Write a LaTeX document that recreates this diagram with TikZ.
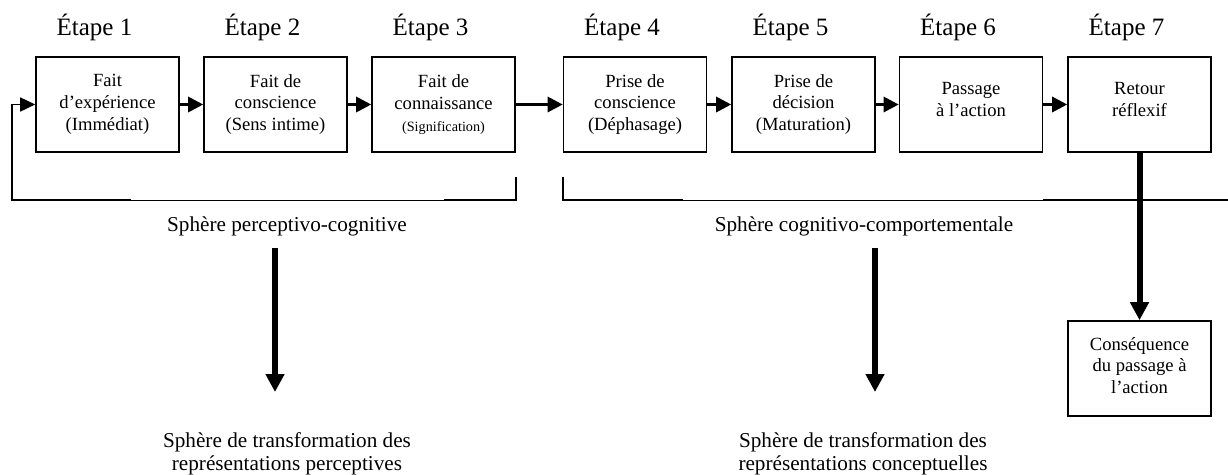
\documentclass[tikz,border=0pt]{standalone}
\usepackage{fontspec}
\setmainfont{Liberation Serif}
\usetikzlibrary{arrows.meta}
% invisible depth added under the last line of a box to lift its text
\newcommand\liftpad[1]{\rule[-#1]{0pt}{0pt}}

\begin{document}
\begin{tikzpicture}[x=1pt,y=-1pt,
  stage/.style={draw, line width=1.6pt, minimum width=143pt, minimum height=95pt,
    inner sep=0pt, align=center, font=\fontsize{18.6}{21.7}\selectfont},
  etape/.style={anchor=base, inner sep=0pt, font=\fontsize{25}{30}\selectfont},
  sphere/.style={inner sep=0pt, align=center, font=\fontsize{21.2}{23.5}\selectfont},
  link/.style={line width=3pt, -{Triangle[length=15pt,width=15pt]}},
  bracket/.style={line width=1.6pt},
  thinrule/.style={line width=0.8pt},
  bigarrow/.style={line width=6pt, -{Triangle[length=18pt,width=18pt]}},
]
\useasboundingbox (0,0) rectangle (1228,474);

% the seven stages
\node[stage] (b1) at (107.5,104.5) {Fait\\d’expérience\\(Immédiat)};
\node[stage] (b2) at (275.5,104.5) {Fait de\\conscience\\(Sens intime)};
\node[stage] (b3) at (443.5,104.5) {Fait de\\connaissance\\{\fontsize{14.2}{17}\selectfont(Signification)}};
\node[stage] (b4) at (635,104.5) {Prise de\\conscience\\(Déphasage)};
\node[stage] (b5) at (803.5,104.5) {Prise de\\décision\\(Maturation)};
\node[stage] (b6) at (971,104.5) {Passage\\à l’action\liftpad{10pt}};
\node[stage] (b7) at (1139.5,104.5) {Retour\\réflexif\liftpad{10pt}};
\node[stage] (cons) at (1139.5,368.5) {Conséquence\\du passage à\\l’action\liftpad{6pt}};

% stage titles
\node[etape] (e1) at (94.5,35) {Étape 1};
\node[etape] (e2) at (262.5,35) {Étape 2};
\node[etape] (e3) at (430.5,35) {Étape 3};
\node[etape] (e4) at (622,35) {Étape 4};
\node[etape] (e5) at (790.5,35) {Étape 5};
\node[etape] (e6) at (958,35) {Étape 6};
\node[etape] (e7) at (1126.5,35) {Étape 7};

% chain of stages
\draw[link] (b1) -- (b2);
\draw[link] (b2) -- (b3);
\draw[link] (b3) -- (b4);
\draw[link] (b4) -- (b5);
\draw[link] (b5) -- (b6);
\draw[link] (b6) -- (b7);

% perceptive-cognitive bracket with the feedback loop
\coordinate (f1) at (516,177);
\coordinate (f2) at (516,200);
\coordinate (f3) at (444,200);
\coordinate (f4) at (131,200);
\coordinate (f5) at (12,200);
\coordinate (f6) at (12,104.5);
\draw[bracket] (f1) -- (f2) -- (f3);
\draw[thinrule] (f3) -- (f4);
\draw[bracket, -{Triangle[length=15pt,width=14pt]}] (f4) -- (f5) -- (f6) -- (b1.west);

% cognitive-behavioural bracket
\coordinate (g1) at (563,177);
\coordinate (g2) at (563,200);
\coordinate (g3) at (683,200);
\coordinate (g4) at (1043,200);
\coordinate (g5) at (1228,200);
\draw[bracket] (g1) -- (g2) -- (g3);
\draw[thinrule] (g3) -- (g4);
\draw[bracket] (g4) -- (g5);

% sphere labels
\node[sphere, anchor=base] (s1) at (287,231) {Sphère perceptivo-cognitive};
\node[sphere, anchor=base] (s2) at (864,231) {Sphère cognitivo-comportementale};
\node[sphere] (t1) at (287,454) {Sphère de transformation des\\représentations perceptives};
\node[sphere] (t2) at (863,454) {Sphère de transformation des\\représentations conceptuelles};

% transformation arrows
\coordinate (a1) at (275,248);
\coordinate (a2) at (275,392);
\coordinate (c1) at (875,248);
\coordinate (c2) at (875,392);
\draw[bigarrow] (a1) -- (a2);
\draw[bigarrow] (c1) -- (c2);
\draw[bigarrow] (b7) -- (cons);
\end{tikzpicture}
\end{document}
